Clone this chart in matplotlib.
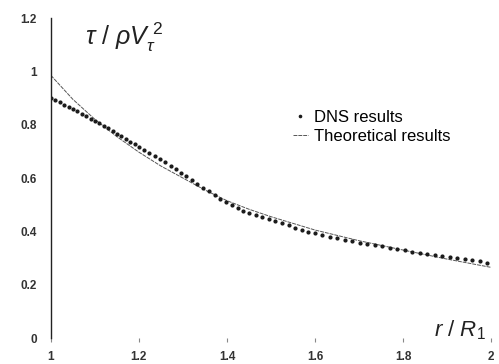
import matplotlib
matplotlib.use("Agg")
import matplotlib.pyplot as plt

plt.rcParams["font.family"] = ["Liberation Sans", "DejaVu Sans"]
plt.rcParams["mathtext.fontset"] = "custom"
plt.rcParams["mathtext.it"] = "Liberation Sans:italic"
plt.rcParams["mathtext.rm"] = "Liberation Sans"

# DNS wall shear stress profile
dns_r = [1.000, 1.010, 1.020, 1.030, 1.040, 1.050, 1.060, 1.070, 1.080, 1.090,
         1.100, 1.110, 1.120, 1.130, 1.140, 1.150, 1.160, 1.170, 1.180, 1.190,
         1.200, 1.212, 1.224, 1.236, 1.248, 1.260, 1.272, 1.284, 1.296, 1.308,
         1.320, 1.333, 1.346, 1.359, 1.372, 1.385, 1.398, 1.411, 1.424, 1.437,
         1.450, 1.465, 1.480, 1.495, 1.510, 1.525, 1.540, 1.555, 1.570, 1.585,
         1.600, 1.617, 1.634, 1.651, 1.668, 1.685, 1.702, 1.719, 1.736, 1.753,
         1.770, 1.787, 1.804, 1.821, 1.838, 1.855, 1.872, 1.889, 1.906, 1.923,
         1.940, 1.957, 1.974, 1.991]
dns_tau = [0.900, 0.892, 0.884, 0.875, 0.867, 0.859, 0.850, 0.841, 0.832, 0.823,
           0.814, 0.805, 0.796, 0.786, 0.776, 0.766, 0.757, 0.747, 0.737, 0.727,
           0.717, 0.705, 0.694, 0.683, 0.671, 0.659, 0.646, 0.633, 0.620, 0.606,
           0.592, 0.578, 0.564, 0.550, 0.536, 0.522, 0.509, 0.497, 0.487, 0.478,
           0.470, 0.462, 0.454, 0.446, 0.438, 0.430, 0.422, 0.414, 0.406, 0.399,
           0.393, 0.386, 0.380, 0.374, 0.368, 0.363, 0.358, 0.353, 0.349, 0.344,
           0.339, 0.334, 0.329, 0.324, 0.320, 0.316, 0.311, 0.307, 0.303, 0.299,
           0.295, 0.291, 0.287, 0.283]

# theoretical curve
theo_r = [1.00, 1.05, 1.10, 1.15, 1.20, 1.25, 1.30, 1.35, 1.40, 1.45, 1.50,
          1.60, 1.70, 1.80, 1.90, 2.00]
theo_tau = [0.985, 0.895, 0.820, 0.755, 0.697, 0.645, 0.600, 0.555, 0.515,
            0.483, 0.455, 0.405, 0.365, 0.330, 0.296, 0.265]

x_ticks = [1, 1.2, 1.4, 1.6, 1.8, 2]
x_labels = ["1", "1.2", "1.4", "1.6", "1.8", "2"]
y_ticks = [0, 0.2, 0.4, 0.6, 0.8, 1, 1.2]
y_labels = ["0", "0.2", "0.4", "0.6", "0.8", "1", "1.2"]

fig = plt.figure(figsize=(4.99, 3.64), dpi=100)
ax = fig.add_axes([0.102, 0.0714, 0.882, 0.879])

ax.plot(theo_r, theo_tau, color="#555555", lw=0.7, ls=(0, (4, 1)),
        label="Theoretical results")
ax.plot(dns_r, dns_tau, ls="none", marker="o", ms=2.0, color="#1a1a1a",
        label="DNS results")

ax.set_xlim(1, 2)
ax.set_ylim(0, 1.2)
ax.set_xticks(x_ticks)
ax.set_xticklabels(x_labels, fontweight="bold")
ax.set_yticks(y_ticks)
ax.set_yticklabels(y_labels, fontweight="bold")

for s in ["top", "right", "bottom"]:
    ax.spines[s].set_visible(False)
ax.spines["left"].set_linewidth(1.0)
ax.spines["left"].set_color("#222222")

ax.tick_params(axis="y", length=0, pad=10, labelsize=8.5, labelcolor="#333333")
ax.tick_params(axis="x", length=3, width=0.8, color="#888888", pad=6,
               labelsize=8.5, labelcolor="#333333")

ax.text(1.077, 1.10, r"$\tau\ /\ \rho V_\tau^{\ \mathrm{2}}$", fontsize=18,
        color="#222222")
ax.text(1.87, 0.005, r"$r\ /\ R_\mathrm{1}$", fontsize=16, color="#222222")

handles, labels = ax.get_legend_handles_labels()
ax.legend(handles[::-1], labels[::-1], loc="upper left",
          bbox_to_anchor=(0.515, 0.76), frameon=False, fontsize=12,
          handlelength=0.9, handletextpad=0.4, labelspacing=0.25,
          markerscale=0.8)

fig.savefig("out.png", dpi=100)
